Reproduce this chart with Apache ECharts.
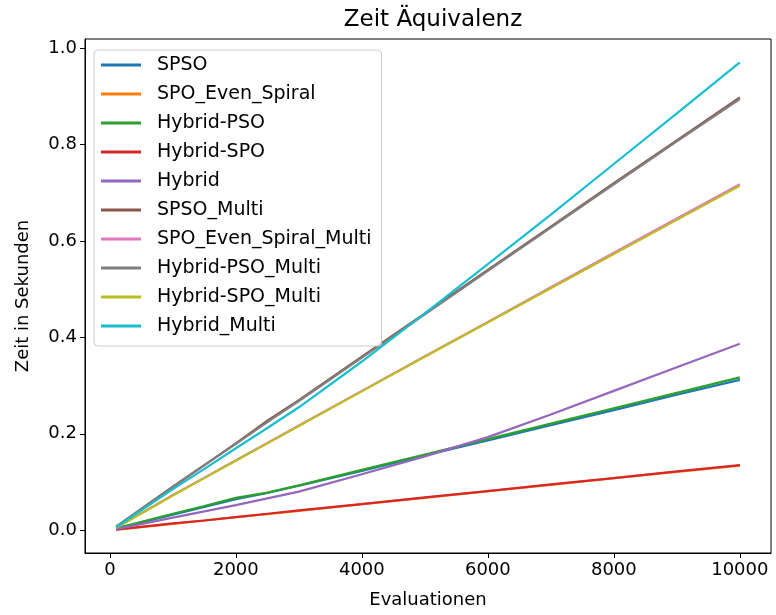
<!DOCTYPE html>
<html>
<head>
<meta charset="utf-8">
<script src="https://cdn.jsdelivr.net/npm/echarts@6/dist/echarts.min.js"></script>
<style>
    html, body { margin: 0; padding: 0; background: #fff; }
    #chart { width: 776px; height: 615px; }
</style>
</head>
<body>
<div id="chart"></div>
<script>
// Evaluationen (x)
var evaluations = [100, 1000, 1500, 2000, 2500, 3000, 4000, 5000, 6000, 7000, 8000, 9000, 10000];

// Zeit in Sekunden je Verfahren
var spso = [0.003, 0.032, 0.048, 0.064, 0.077, 0.092, 0.123, 0.155, 0.186, 0.218, 0.249, 0.281, 0.312];
var spoEvenSpiral = [0.001, 0.013, 0.020, 0.027, 0.033, 0.040, 0.054, 0.067, 0.081, 0.094, 0.108, 0.121, 0.134];
var hybridPso = [0.004, 0.034, 0.050, 0.067, 0.078, 0.093, 0.125, 0.157, 0.189, 0.221, 0.253, 0.285, 0.317];
var hybridSpo = [0.001, 0.014, 0.020, 0.027, 0.034, 0.041, 0.054, 0.068, 0.081, 0.095, 0.108, 0.122, 0.135];
var hybrid = [0.002, 0.026, 0.039, 0.052, 0.066, 0.080, 0.116, 0.153, 0.193, 0.240, 0.289, 0.338, 0.387];
var spsoMulti = [0.007, 0.090, 0.135, 0.180, 0.227, 0.270, 0.360, 0.450, 0.540, 0.630, 0.720, 0.809, 0.898];
var spoEvenSpiralMulti = [0.005, 0.073, 0.109, 0.145, 0.181, 0.217, 0.289, 0.361, 0.432, 0.504, 0.576, 0.647, 0.718];
var hybridPsoMulti = [0.007, 0.090, 0.135, 0.179, 0.224, 0.268, 0.358, 0.448, 0.538, 0.628, 0.718, 0.807, 0.895];
var hybridSpoMulti = [0.005, 0.072, 0.108, 0.144, 0.180, 0.216, 0.288, 0.360, 0.431, 0.502, 0.573, 0.644, 0.715];
var hybridMulti = [0.006, 0.085, 0.127, 0.170, 0.212, 0.255, 0.350, 0.450, 0.552, 0.655, 0.760, 0.865, 0.971];

var xTicks = [0, 2000, 4000, 6000, 8000, 10000];
var yTicks = [0, 0.2, 0.4, 0.6, 0.8, 1.0];

var names = ['SPSO', 'SPO_Even_Spiral', 'Hybrid-PSO', 'Hybrid-SPO', 'Hybrid',
    'SPSO_Multi', 'SPO_Even_Spiral_Multi', 'Hybrid-PSO_Multi', 'Hybrid-SPO_Multi', 'Hybrid_Multi'];
var values = [spso, spoEvenSpiral, hybridPso, hybridSpo, hybrid,
    spsoMulti, spoEvenSpiralMulti, hybridPsoMulti, hybridSpoMulti, hybridMulti];
var colors = ['#1f77b4', '#ff7f0e', '#2ca02c', '#d62728', '#9467bd',
    '#8c564b', '#e377c2', '#7f7f7f', '#bcbd22', '#17becf'];

var font = 'DejaVu Sans';

var chart = echarts.init(document.getElementById('chart'));

// Serien aufbauen
var series = names.map(function (name, i) {
    return {
        name: name,
        type: 'line',
        showSymbol: false,
        animation: false,
        lineStyle: { width: 2.2, color: colors[i] },
        itemStyle: { color: colors[i] },
        data: evaluations.map(function (x, j) {
            return [x, values[i][j]];
        })
    };
});

chart.setOption({
    backgroundColor: '#fff',
    animation: false,
    title: {
        text: 'Zeit Äquivalenz',
        left: 428,
        textAlign: 'center',
        top: 4,
        textStyle: { fontFamily: font, fontSize: 23, fontWeight: 'normal', color: '#000' }
    },
    grid: {
        left: 85,
        right: 5,
        top: 39,
        bottom: 62,
        show: true,
        borderColor: '#000',
        borderWidth: 1
    },
    legend: {
        orient: 'vertical',
        left: 94,
        top: 50,
        icon: 'rect',
        itemWidth: 40,
        itemHeight: 3,
        itemGap: 9,
        padding: [5, 10, 10, 7],
        backgroundColor: 'rgba(255,255,255,0.8)',
        borderColor: '#ccc',
        borderWidth: 1,
        borderRadius: 4,
        textStyle: { fontFamily: font, fontSize: 19, color: '#000', lineHeight: 20, padding: [0, 0, 0, 11] },
        data: names
    },
    xAxis: {
        type: 'value',
        min: -395,
        max: 10495,
        name: 'Evaluationen',
        nameLocation: 'middle',
        nameGap: 38,
        nameTextStyle: { fontFamily: font, fontSize: 18, color: '#000' },
        axisLine: { show: true, onZero: false, lineStyle: { color: '#000' } },
        axisTick: { show: true, inside: false, length: 5, customValues: xTicks, lineStyle: { color: '#000' } },
        axisLabel: {
            customValues: xTicks,
            fontFamily: font, fontSize: 18, color: '#000', margin: 8,
            formatter: function (v) { return String(v); }
        },
        splitLine: { show: false }
    },
    yAxis: {
        type: 'value',
        min: -0.0475,
        max: 1.0195,
        name: 'Zeit in Sekunden',
        nameLocation: 'middle',
        nameRotate: 90,
        nameGap: 53,
        nameTextStyle: { fontFamily: font, fontSize: 18, color: '#000' },
        axisLine: { show: true, onZero: false, lineStyle: { color: '#000' } },
        axisTick: { show: true, inside: false, length: 5, customValues: yTicks, lineStyle: { color: '#000' } },
        axisLabel: {
            customValues: yTicks,
            fontFamily: font, fontSize: 18, color: '#000', margin: 8,
            formatter: function (v) { return v.toFixed(1); }
        },
        splitLine: { show: false }
    },
    series: series
});
</script>
</body>
</html>
